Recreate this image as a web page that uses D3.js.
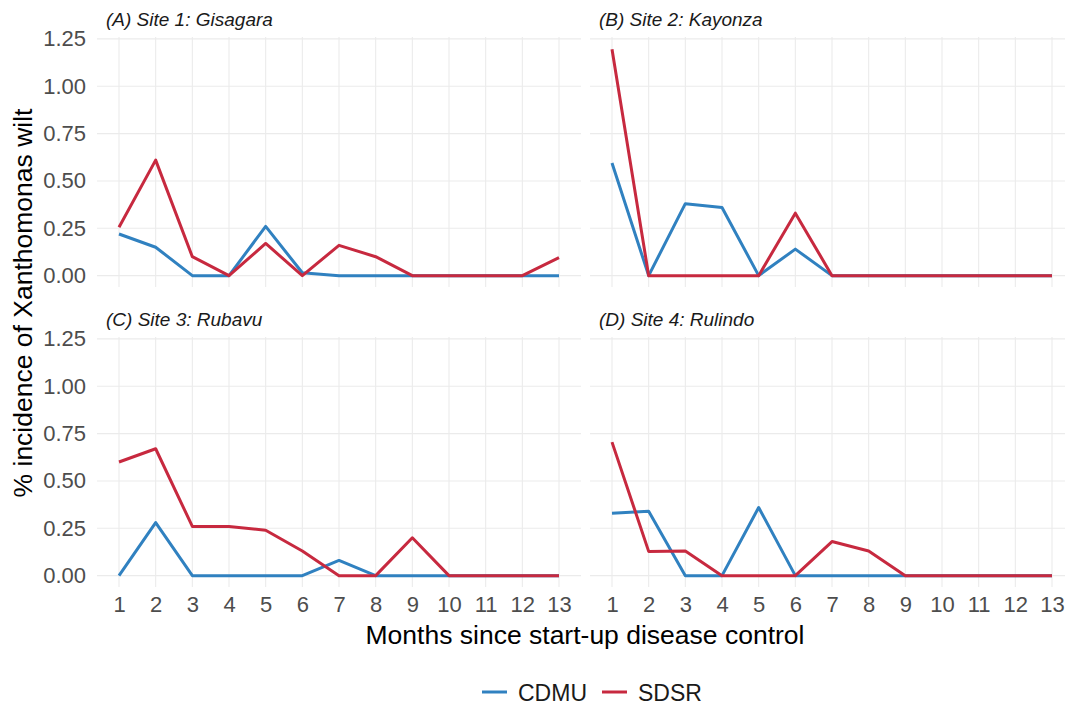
<!DOCTYPE html>
<html>
<head>
<meta charset="utf-8">
<script src="https://cdn.jsdelivr.net/npm/d3@7"></script>
<style>
body{margin:0;background:#fff}
svg{display:block;font-family:"Liberation Sans",Arial,sans-serif}
</style>
</head>
<body>
<svg id="chart" width="1065" height="705"></svg>
<script>
var months=[1,2,3,4,5,6,7,8,9,10,11,12,13];
var yTicks=[0,0.25,0.5,0.75,1,1.25];
var seriesNames=["CDMU","SDSR"];
var panelTitles=["(A) Site 1: Gisagara","(B) Site 2: Kayonza","(C) Site 3: Rubavu","(D) Site 4: Rulindo"];

var cdmuGisagara=[0.22,0.15,0,0,0.26,0.015,0,0,0,0,0,0,0];
var sdsrGisagara=[0.255,0.61,0.10,0,0.17,0,0.16,0.10,0,0,0,0,0.095];
var cdmuKayonza=[0.595,0,0.38,0.36,0,0.14,0,0,0,0,0,0,0];
var sdsrKayonza=[1.195,0,0,0,0,0.33,0,0,0,0,0,0,0];
var cdmuRubavu=[0,0.28,0,0,0,0,0.08,0,0,0,0,0,0];
var sdsrRubavu=[0.60,0.67,0.26,0.26,0.24,0.13,0,0,0.20,0,0,0,0];
var cdmuRulindo=[0.33,0.34,0,0,0.36,0,0,0,0,0,0,0,0];
var sdsrRulindo=[0.705,0.128,0.13,0,0,0,0.18,0.13,0,0,0,0,0];

var colors={CDMU:"#3081c0",SDSR:"#c7293f"};

var panels=[
 {title:panelTitles[0],CDMU:cdmuGisagara,SDSR:sdsrGisagara,left:97,top:37},
 {title:panelTitles[1],CDMU:cdmuKayonza,SDSR:sdsrKayonza,left:590,top:37},
 {title:panelTitles[2],CDMU:cdmuRubavu,SDSR:sdsrRubavu,left:97,top:337},
 {title:panelTitles[3],CDMU:cdmuRulindo,SDSR:sdsrRulindo,left:590,top:337}
];
var pw=484,ph=250;
var tickFont=22;

var svg=d3.select("#chart");

panels.forEach(function(p,i){
 var x=d3.scaleLinear().domain([0.4,13.6]).range([p.left,p.left+pw]);
 var y=d3.scaleLinear().domain([-0.06,1.26]).range([p.top+ph,p.top]);
 var g=svg.append("g");

 // grid
 g.selectAll("line.gy").data(yTicks).enter().append("line")
  .attr("x1",p.left).attr("x2",p.left+pw)
  .attr("y1",function(d){return y(d);}).attr("y2",function(d){return y(d);})
  .attr("stroke","#ebebeb").attr("stroke-width",1.1);
 g.selectAll("line.gx").data(months).enter().append("line")
  .attr("y1",p.top).attr("y2",p.top+ph)
  .attr("x1",function(d){return x(d);}).attr("x2",function(d){return x(d);})
  .attr("stroke","#ebebeb").attr("stroke-width",1.1);

 // y axis labels only on left panels
 if(i%2==0){
  var ya=d3.axisLeft(y).tickValues(yTicks).tickSize(0).tickPadding(11).tickFormat(d3.format(".2f"));
  var yg=g.append("g").attr("transform","translate("+p.left+",0)").call(ya);
  yg.select(".domain").remove();
  yg.selectAll("text").attr("font-size",tickFont).attr("fill","#4d4d4d").attr("font-family","Liberation Sans, Arial, sans-serif");
 }
 // x axis labels only bottom panels
 if(i>=2){
  var xa=d3.axisBottom(x).tickValues(months).tickSize(0).tickPadding(9).tickFormat(d3.format("d"));
  var xg=g.append("g").attr("transform","translate(0,"+(p.top+ph)+")").call(xa);
  xg.select(".domain").remove();
  xg.selectAll("text").attr("font-size",tickFont).attr("fill","#4d4d4d").attr("font-family","Liberation Sans, Arial, sans-serif");
 }

 // strip
 g.append("text").attr("x",p.left+9).attr("y",p.top-11)
  .attr("font-size",19).attr("font-style","italic").attr("fill","#1a1a1a")
  .text(p.title);

 var line=d3.line().x(function(d,j){return x(months[j]);}).y(function(d){return y(d);});
 seriesNames.forEach(function(s){
  g.append("path").datum(p[s]).attr("d",line)
   .attr("fill","none").attr("stroke",colors[s]).attr("stroke-width",3)
   .attr("stroke-linejoin","round");
 });
});

// axis titles
svg.append("text").attr("x",585).attr("y",644).attr("text-anchor","middle")
 .attr("font-size",26.5).attr("fill","#000").text("Months since start-up disease control");
svg.append("text").attr("transform","translate(32,303) rotate(-90)").attr("text-anchor","middle")
 .attr("font-size",26.5).attr("fill","#000").text("% incidence of Xanthomonas wilt");

// legend
var legX=[482,602];
seriesNames.forEach(function(s,k){
 svg.append("line").attr("x1",legX[k]).attr("x2",legX[k]+25).attr("y1",692).attr("y2",692)
  .attr("stroke",colors[s]).attr("stroke-width",3);
 svg.append("text").attr("x",legX[k]+36).attr("y",701).attr("font-size",23).attr("fill","#1a1a1a").text(s);
});
</script>
</body>
</html>
